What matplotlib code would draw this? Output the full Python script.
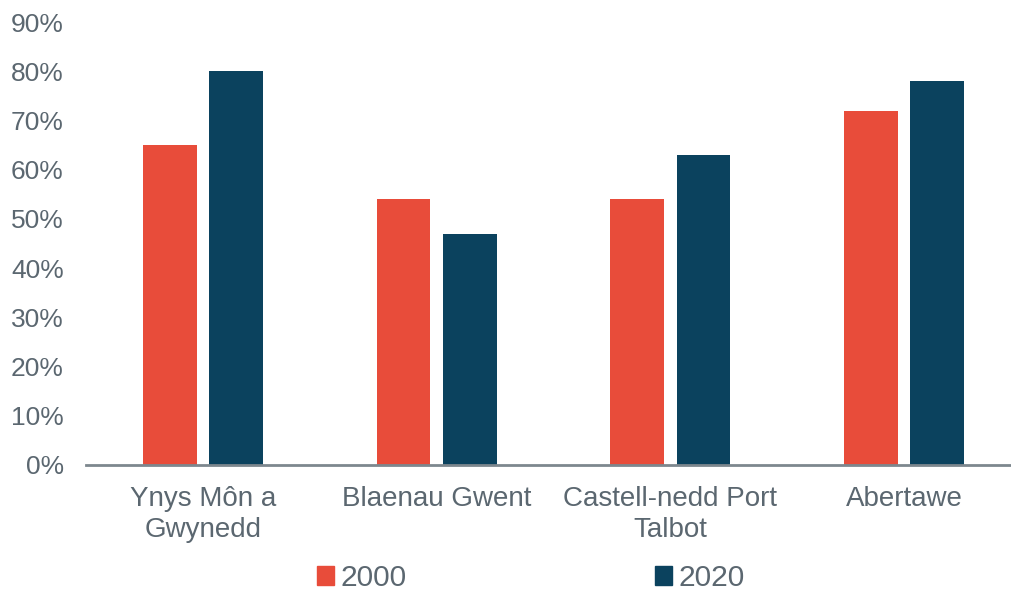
import matplotlib
matplotlib.use("Agg")
import matplotlib.pyplot as plt
import numpy as np
from matplotlib.patches import Patch

categories = ["Ynys Môn a\nGwynedd", "Blaenau Gwent", "Castell-nedd Port\nTalbot", "Abertawe"]
series_names = ["2000", "2020"]
values_2000 = [65, 54, 54, 72]
values_2020 = [80, 47, 63, 78]
yticks = [0, 10, 20, 30, 40, 50, 60, 70, 80, 90]

c2000 = "#E84C3A"
c2020 = "#0B425E"
txt = "#5B6770"

plt.rcParams['font.family'] = ['Liberation Sans', 'DejaVu Sans']

fig = plt.figure(figsize=(10.11, 5.99), dpi=100)
ax = fig.add_axes([86/1011, 134/599, 935/1011, 443/599])

x = np.arange(len(categories))
w = 0.23
off = 0.142
ax.bar(x - off, values_2000, w, color=c2000, label=series_names[0])
ax.bar(x + off, values_2020, w, color=c2020, label=series_names[1])

ax.set_xlim(-0.5, len(categories) - 0.5)
ax.set_ylim(0, 90)
ax.set_yticks(yticks)
ax.set_yticklabels([f"{v}%" for v in yticks])
ax.set_xticks(x)
ax.set_xticklabels(categories, linespacing=1.27)

for s in ["top", "right", "left"]:
    ax.spines[s].set_visible(False)
ax.spines["bottom"].set_color("#7D878E")
ax.spines["bottom"].set_linewidth(2)
ax.tick_params(axis="both", length=0, colors=txt)
ax.tick_params(axis="y", pad=16, labelsize=19)
ax.tick_params(axis="x", pad=15, labelsize=20)

handles = [Patch(color=c2000), Patch(color=c2020)]
fig.legend(handles, series_names, loc="center", bbox_to_anchor=(531/1011, 1 - 578/599),
           ncol=2, frameon=False, fontsize=21.5, labelcolor=txt,
           handlelength=0.57, handleheight=0.57, handletextpad=0.23, columnspacing=8.3)

fig.savefig("out.png", dpi=100)
